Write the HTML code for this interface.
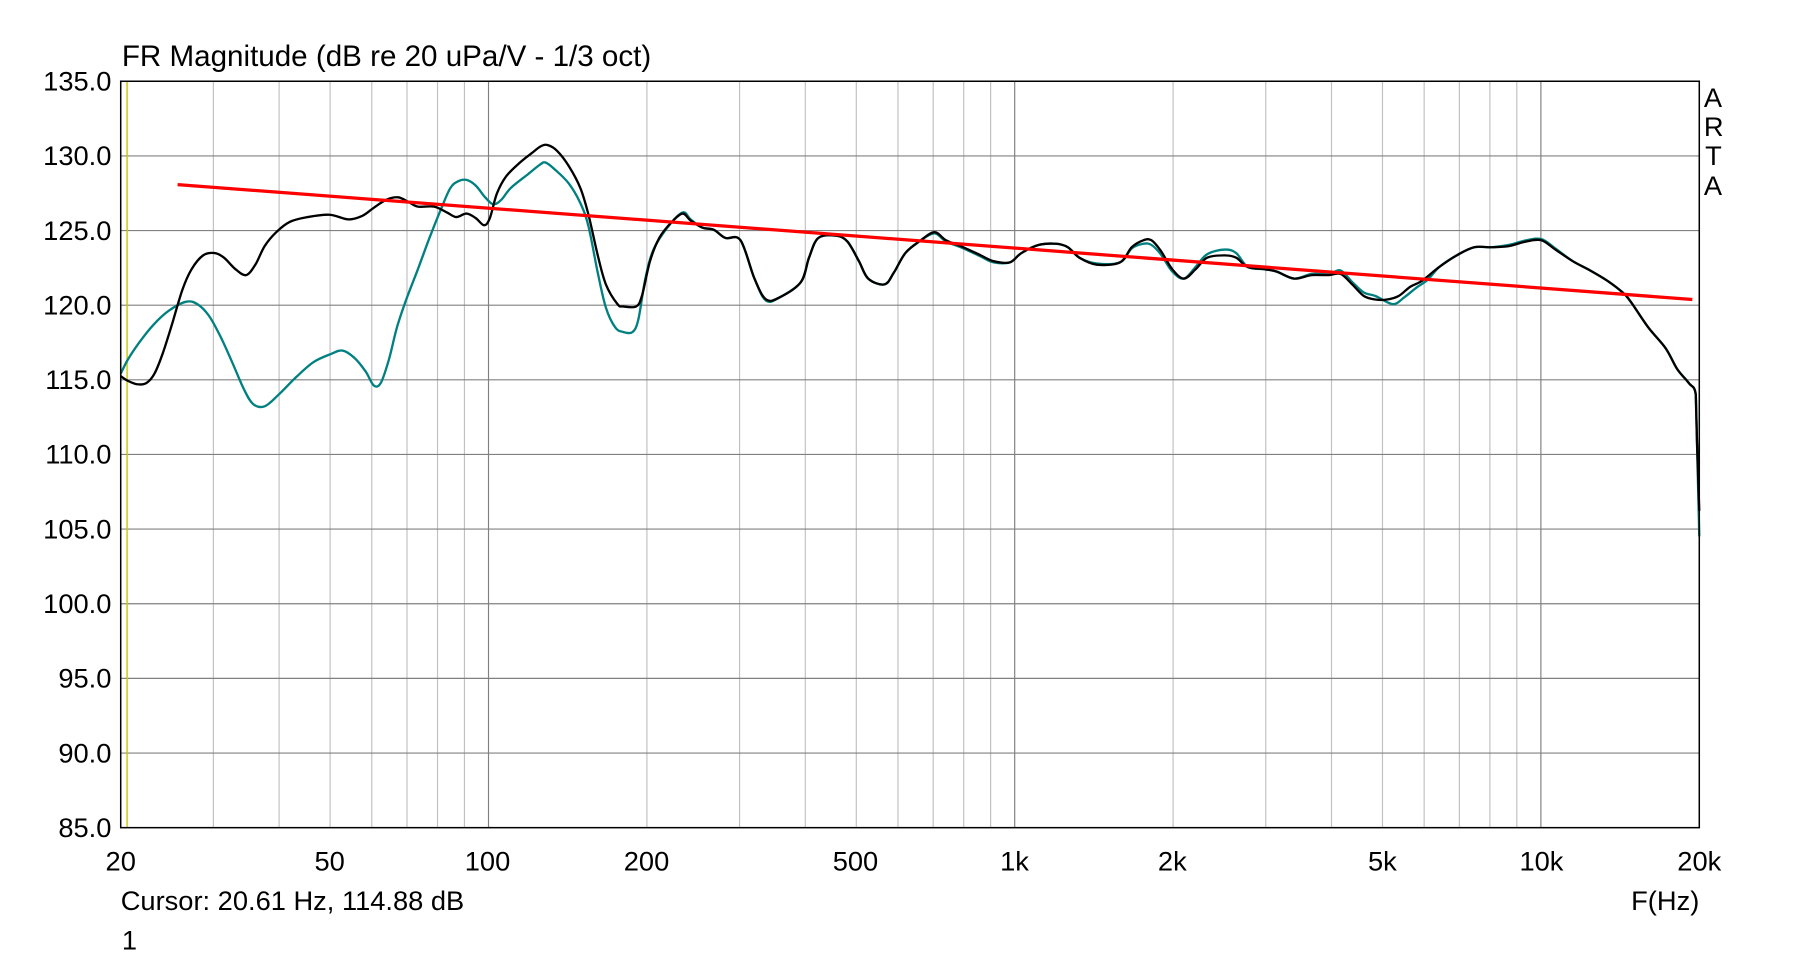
<!DOCTYPE html>
<html><head><meta charset="utf-8"><style>
html,body{margin:0;padding:0;background:#fff;width:1820px;height:960px;overflow:hidden}
svg{display:block}
text{font-family:"Liberation Sans",Arial,sans-serif;fill:#000}
</style></head><body>
<svg id="s" width="1820" height="960" viewBox="0 0 1568 827" preserveAspectRatio="none">
<rect width="1568" height="827" fill="#fff"/>
<g id="grid"></g>
<line x1="109.5" y1="70" x2="109.5" y2="713" stroke="#c8c800" stroke-width="1.2"/>
<path id="teal" fill="none" stroke="#008080" stroke-width="2" stroke-linejoin="round"/>
<path id="blk" fill="none" stroke="#000" stroke-width="2" stroke-linejoin="round"/>
<line x1="153" y1="159" x2="1458" y2="258" stroke="#ff0000" stroke-width="2.8"/>
<rect x="104" y="70" width="1360" height="643" fill="none" stroke="#000" stroke-width="1.3"/>
<text x="105" y="57" font-size="25.5">FR Magnitude (dB re 20 uPa/V - 1/3 oct)</text>
<g id="ylab" font-size="23.5" text-anchor="end"></g>
<g font-size="23.5" text-anchor="middle">
<text x="104" y="750">20</text><text x="284" y="750">50</text><text x="420" y="750">100</text><text x="557" y="750">200</text><text x="737" y="750">500</text><text x="874" y="750">1k</text><text x="1010" y="750">2k</text><text x="1191" y="750">5k</text><text x="1328" y="750">10k</text><text x="1464" y="750">20k</text>
</g>
<text x="104" y="784" font-size="23.5">Cursor: 20.61 Hz, 114.88 dB</text>
<text x="1464" y="784" font-size="23.5" text-anchor="end">F(Hz)</text>
<text x="105" y="818" font-size="23.5">1</text>
<g font-size="23.5"><text x="1468" y="92">A</text><text x="1468" y="117">R</text><text x="1469" y="142">T</text><text x="1468" y="168">A</text></g>
</svg>
<script>
var ns="http://www.w3.org/2000/svg",g=document.getElementById("grid"),yl=document.getElementById("ylab");
function ln(x1,y1,x2,y2,c){var l=document.createElementNS(ns,"line");l.setAttribute("x1",x1);l.setAttribute("y1",y1);l.setAttribute("x2",x2);l.setAttribute("y2",y2);l.setAttribute("stroke",c);l.setAttribute("stroke-width","1");g.appendChild(l);}
var L=104,R=1464,T=70,B=713;
[10,100,1000,10000].forEach(function(d){for(var m=1;m<10;m++){var f=d*m;if(f<=20||f>=20000)continue;var x=L+(R-L)*Math.log10(f/20)/3;ln(x,T,x,B,(m==1)?"#808080":"#c0c0c0");}});
for(var i=0;i<=10;i++){var y=T+(B-T)*i/10;if(i>0&&i<10)ln(L,y,R,y,"#808080");var t=document.createElementNS(ns,"text");t.setAttribute("x",96);t.setAttribute("y",y+8);t.textContent=(135-5*i).toFixed(1);yl.appendChild(t);}
function smooth(str){var a=str.trim().split(/\s+/).map(function(p){return p.split(",").map(Number);});
var d="M"+a[0][0]+","+a[0][1];for(var i=0;i<a.length-1;i++){var p0=a[Math.max(0,i-1)],p1=a[i],p2=a[i+1],p3=a[Math.min(a.length-1,i+2)];
var t=(p2[0]-p1[0])<3?0:1/6;
d+=" C"+(p1[0]+(p2[0]-p0[0])*t)+","+(p1[1]+(p2[1]-p0[1])*t)+" "+(p2[0]-(p3[0]-p1[0])*t)+","+(p2[1]-(p3[1]-p1[1])*t)+" "+p2[0]+","+p2[1];}return d;}
var T1="104,322 110,310 120,295 132,280 145,268 160,260 170,262 180,272 190,290 200,312 210,335 218,348 228,350 240,340 255,325 270,312 285,305 295,302 305,308 315,320 322,332 328,330 335,310 342,282 350,258 360,232 370,205 380,180 388,162 395,156 402,155 410,160 418,170 425,176 432,172 440,162 455,150 465,142 470,140 478,146 490,158 500,175 507,195 515,235 522,265 530,282 537,286 545,286 550,275 556,240 563,215 575,196 588,183 595,189 605,196 615,198 625,205 638,207 650,240 660,259 672,256 690,243 697,222 705,205 720,203 730,208 740,225 748,240 762,245 770,235 780,218 792,208 805,201 815,208 830,214 845,221 856,226 870,226 880,218 895,211 910,210 920,213 930,222 945,227 965,226 975,214 985,210 992,211 1000,219 1010,234 1020,240 1030,230 1040,219 1055,215 1065,218 1075,230 1090,232 1100,234 1115,240 1130,236 1145,236 1155,233 1165,243 1175,252 1185,255 1200,262 1210,256 1220,248 1230,241 1240,230 1255,220 1270,213 1285,213 1300,211 1315,207 1328,206 1340,214 1355,225 1370,233 1385,242 1398,252 1405,260 1420,282 1435,300 1445,318 1455,330 1461,340 1462,380 1464,462";
var B1="104,324 110,328 118,331 126,330 133,322 140,305 148,280 157,250 165,232 175,220 185,218 193,222 203,232 212,237 220,228 228,212 238,200 250,191 265,187 284,185 300,189 312,186 322,179 333,172 343,170 352,174 360,178 374,178 385,183 393,187 402,184 410,188 417,194 422,188 428,167 436,152 448,140 458,132 466,126 472,125 480,130 490,143 500,162 507,185 515,220 522,245 532,262 537,264 548,264 553,255 560,225 568,205 578,192 588,184 595,190 605,196 615,198 625,205 638,207 650,240 660,258 672,256 690,243 697,222 705,205 720,203 730,208 740,225 748,240 762,245 770,235 780,218 792,208 805,200 815,207 830,213 845,220 856,225 870,226 880,218 895,211 910,210 920,213 930,222 945,228 965,226 975,213 985,207 992,207 1000,216 1010,232 1020,240 1030,232 1040,222 1055,220 1065,222 1075,230 1090,232 1100,234 1115,240 1130,237 1145,237 1155,236 1165,245 1175,255 1185,258 1195,258 1205,255 1215,247 1225,242 1240,230 1255,220 1270,213 1285,213 1300,212 1315,208 1328,207 1340,215 1355,225 1370,233 1385,242 1398,252 1405,260 1420,282 1435,300 1445,318 1455,330 1461,340 1462,380 1464,440";
document.getElementById("teal").setAttribute("d",smooth(T1));
document.getElementById("blk").setAttribute("d",smooth(B1));
</script>
</body></html>
